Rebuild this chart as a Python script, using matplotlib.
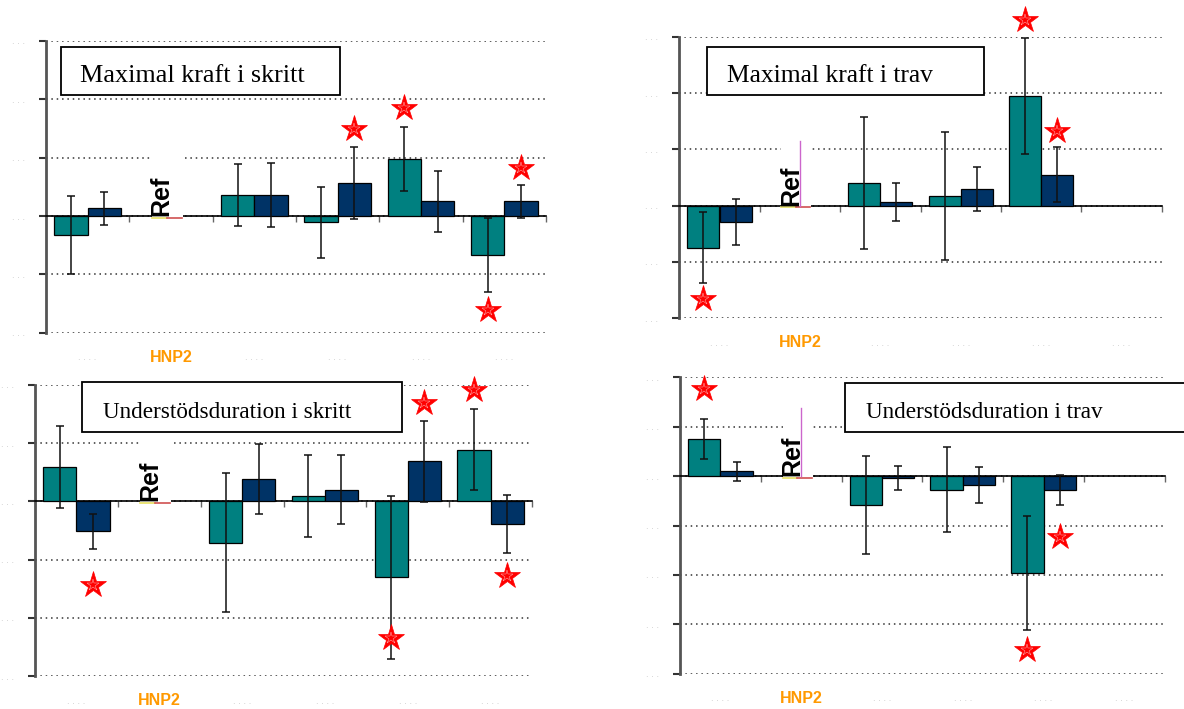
import numpy as np
import matplotlib
matplotlib.use("Agg")
import matplotlib.pyplot as plt
from matplotlib.patches import Rectangle

W, H = 1184, 709
nan = np.nan

titles = ["Maximal kraft i skritt", "Maximal kraft i trav",
          "Understödsduration i skritt", "Understödsduration i trav"]
cat_labels = [". . . .", "HNP2", ". . . .", ". . . .", ". . . .", ". . . ."]

# bar heights and error half-widths, first series (teal) and second (navy)
teal_1 = [-0.33, nan, 0.36, -0.11, 0.98, -0.67]
teal_err_1 = [0.67, nan, 0.53, 0.61, 0.55, 0.64]
navy_1 = [0.13, nan, 0.36, 0.57, 0.25, 0.25]
navy_err_1 = [0.28, nan, 0.55, 0.62, 0.53, 0.29]

teal_2 = [-0.75, nan, 0.40, 0.17, 1.95, nan]
teal_err_2 = [0.63, nan, 1.17, 1.13, 1.03, nan]
navy_2 = [-0.29, nan, 0.06, 0.29, 0.55, nan]
navy_err_2 = [0.41, nan, 0.34, 0.39, 0.49, nan]

teal_3 = [0.59, nan, -0.71, 0.09, -1.30, 0.89]
teal_err_3 = [0.70, nan, 1.19, 0.70, 1.40, 0.70]
navy_3 = [-0.51, nan, 0.39, 0.20, 0.69, -0.39]
navy_err_3 = [0.30, nan, 0.60, 0.59, 0.70, 0.50]

teal_4 = [0.75, nan, -0.59, -0.28, -1.96, nan]
teal_err_4 = [0.40, nan, 0.99, 0.86, 1.15, nan]
navy_4 = [0.10, nan, -0.04, -0.18, -0.28, nan]
navy_err_4 = [0.19, nan, 0.24, 0.37, 0.30, nan]

# significance stars: category, series (0 teal, 1 navy), height
star_cat_1, star_ser_1, star_y_1 = [3, 4, 5, 5], [1, 0, 1, 0], [1.49, 1.86, 0.83, -1.61]
star_cat_2, star_ser_2, star_y_2 = [0, 4, 4], [0, 0, 1], [-1.66, 3.29, 1.32]
star_cat_3, star_ser_3, star_y_3 = [0, 4, 5, 4, 5], [1, 1, 0, 0, 1], [-1.44, 1.69, 1.92, -2.35, -1.29]
star_cat_4, star_ser_4, star_y_4 = [0, 4, 4], [0, 1, 0], [1.76, -1.225, -3.52]

ylims = [(-2, 3), (-2, 3), (-3, 2), (-4, 2)]
ref_whisker = [0, 1.15, 0, 1.38]

TEAL = "#008080"
NAVY = "#003366"

fig = plt.figure(figsize=(W / 100, H / 100), dpi=100)
fig.patch.set_facecolor("white")


def px_axes(x0, y0, x1, y1):
    return fig.add_axes([x0 / W, 1 - y1 / H, (x1 - x0) / W, (y1 - y0) / H])


def title_box(x0, y0, x1, y1, tx, ty, text, size):
    fig.patches.append(Rectangle((x0 / W, 1 - y1 / H), (x1 - x0) / W, (y1 - y0) / H,
                                 transform=fig.transFigure, facecolor="white",
                                 edgecolor="black", lw=1.3, zorder=2))
    fig.text(tx / W, 1 - ty / H, text, family="Liberation Serif", fontsize=size,
             ha="left", va="baseline", zorder=3)


def panel(ax, teal, teal_err, navy, navy_err, ylim, star_cat, star_ser, star_y, whisker):
    x = np.arange(6)
    lo, hi = ylim
    ax.set_xlim(0, 6)
    ax.set_ylim(lo, hi)
    ax.set_axisbelow(True)

    ekw = dict(ecolor="#111111", elinewidth=1.1, capsize=3.2, capthick=1.1)
    ax.bar(x + 0.3, teal, 0.4, color=TEAL, edgecolor="black", lw=0.9,
           yerr=teal_err, error_kw=ekw, zorder=3)
    ax.bar(x + 0.7, navy, 0.4, color=NAVY, edgecolor="black", lw=0.9,
           yerr=navy_err, error_kw=ekw, zorder=3)

    # reference group
    ax.add_patch(Rectangle((1.27, -0.06), 0.37, 1.1, facecolor="white",
                           edgecolor="none", zorder=2.6))
    ax.plot([1.27, 1.45], [-0.03, -0.03], color="#e8e060", lw=1.2, zorder=2.7)
    ax.plot([1.45, 1.63], [-0.03, -0.03], color="#d05050", lw=1.2, zorder=2.7)
    if whisker:
        ax.plot([1.5, 1.5], [0, whisker], color="#cc66cc", lw=1, zorder=2.7)
    ax.text(1.39, 0, "Ref", rotation=90, ha="center", va="bottom",
            family="Liberation Sans", fontweight="bold", fontsize=18, zorder=4)

    sx = np.array(star_cat) + 0.3 + 0.4 * np.array(star_ser)
    ax.plot(sx, star_y, ls="none", marker="*", ms=20, mfc="red", mec="red",
            mew=0.5, clip_on=False, zorder=5)
    ax.plot(sx, star_y, ls="none", marker="*", ms=9, mfc="none", mec="#ffd0d0",
            mew=0.3, clip_on=False, zorder=6)

    # axes styling
    for s in ("top", "right"):
        ax.spines[s].set_visible(False)
    ax.spines["left"].set_color("#555555")
    ax.spines["left"].set_linewidth(2)
    ax.spines["bottom"].set_position(("data", 0))
    ax.spines["bottom"].set_color("black")
    ax.spines["bottom"].set_linewidth(1.2)

    ax.set_yticks(np.arange(lo, hi + 1))
    ax.set_yticklabels([". . ."] * (hi - lo + 1))
    ax.tick_params(axis="y", direction="out", length=5, width=1.5, color="#333333",
                   labelsize=6, labelcolor="#c0c0c0", pad=10)
    ax.grid(axis="y", ls=(0, (1, 2.5)), color="#333333", lw=1.1)

    ax.set_xticks(np.arange(1, 7))
    ax.tick_params(axis="x", direction="out", length=4, width=1, color="#666666",
                   labelbottom=False)
    for i, lab in enumerate(cat_labels):
        if lab == "HNP2":
            ax.annotate(lab, (i + 0.5, 0), xycoords=ax.get_xaxis_transform(),
                        xytext=(0, -21), textcoords="offset points", ha="center",
                        va="baseline", color="#ff9900", fontweight="bold",
                        family="Liberation Sans", fontsize=11.5)
        else:
            ax.annotate(lab, (i + 0.5, 0), xycoords=ax.get_xaxis_transform(),
                        xytext=(0, -20), textcoords="offset points", ha="center",
                        va="baseline", color="#c0c0c0", fontsize=6)


ax1 = px_axes(46, 41, 546, 332.7)
panel(ax1, teal_1, teal_err_1, navy_1, navy_err_1, ylims[0],
      star_cat_1, star_ser_1, star_y_1, ref_whisker[0])
ax2 = px_axes(679.3, 36.7, 1161.7, 318.3)
panel(ax2, teal_2, teal_err_2, navy_2, navy_err_2, ylims[1],
      star_cat_2, star_ser_2, star_y_2, ref_whisker[1])
ax3 = px_axes(35, 385, 532, 676)
panel(ax3, teal_3, teal_err_3, navy_3, navy_err_3, ylims[2],
      star_cat_3, star_ser_3, star_y_3, ref_whisker[2])
ax4 = px_axes(680, 377.3, 1164.8, 673.7)
panel(ax4, teal_4, teal_err_4, navy_4, navy_err_4, ylims[3],
      star_cat_4, star_ser_4, star_y_4, ref_whisker[3])

title_box(60.7, 46.7, 340, 95, 80, 81.7, titles[0], 18.8)
title_box(706.7, 46.7, 984.3, 95.3, 727, 81.7, titles[1], 18.4)
title_box(82.3, 382.3, 402.3, 432.3, 102.7, 418.3, titles[2], 16.7)
title_box(845, 382.7, 1195, 432.3, 866, 418.3, titles[3], 16.7)

fig.savefig("out.png", dpi=100)
